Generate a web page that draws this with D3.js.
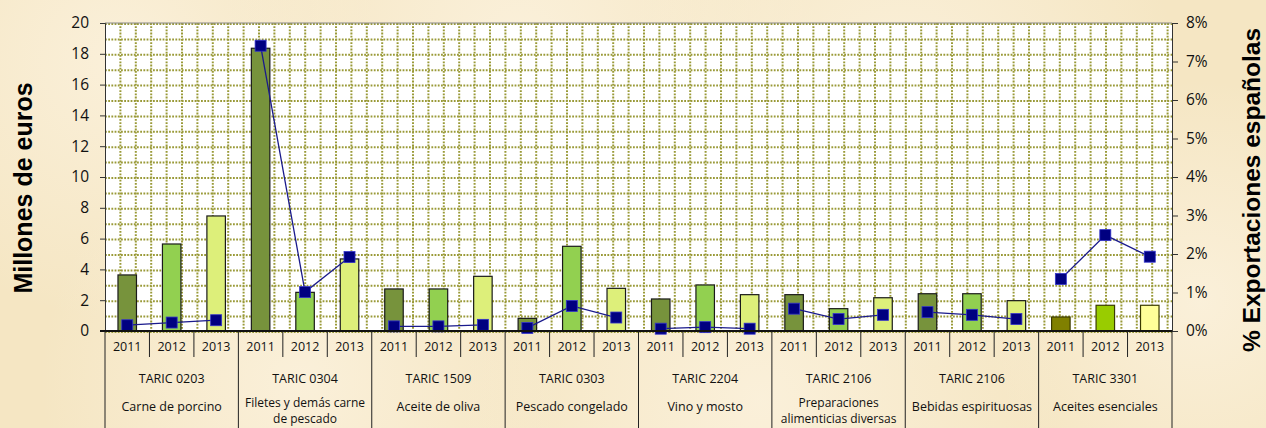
<!DOCTYPE html>
<html>
<head>
<meta charset="utf-8">
<script src="https://cdn.jsdelivr.net/npm/d3@7"></script>
<style>
  body { margin: 0; background: #f6e9ca; }
  svg { display: block; }
  .tick text { font-family: "Open Sans", "Noto Sans", sans-serif; }
</style>
</head>
<body>
<svg id="chart" width="1266" height="428"></svg>
<script>
// data
var codes = ["TARIC 0203", "TARIC 0304", "TARIC 1509", "TARIC 0303", "TARIC 2204", "TARIC 2106", "TARIC 2106", "TARIC 3301"];
var names = [["Carne de porcino"], ["Filetes y demás carne", "de pescado"], ["Aceite de oliva"], ["Pescado congelado"],
             ["Vino y mosto"], ["Preparaciones", "alimenticias diversas"], ["Bebidas espirituosas"], ["Aceites esenciales"]];
var years = ["2011", "2012", "2013"];
// millones de euros, one row per group
var valores = [
  [3.64, 5.65, 7.47],
  [18.36, 2.51, 4.68],
  [2.73, 2.73, 3.55],
  [0.82, 5.5, 2.77],
  [2.08, 2.99, 2.36],
  [2.36, 1.45, 2.16],
  [2.42, 2.42, 1.97],
  [0.91, 1.67, 1.67]
];
// % exportaciones españolas
var pct = [
  [0.15, 0.22, 0.28],
  [7.41, 1.01, 1.92],
  [0.12, 0.12, 0.16],
  [0.08, 0.65, 0.35],
  [0.06, 0.1, 0.06],
  [0.58, 0.31, 0.42],
  [0.49, 0.42, 0.31],
  [1.35, 2.49, 1.93]
];
var leftTicks = [0, 2, 4, 6, 8, 10, 12, 14, 16, 18, 20];
var rightTicks = [0, 1, 2, 3, 4, 5, 6, 7, 8];

var barColors = ["#77933c", "#92d050", "#ddef7a"];
var lastColors = ["#808000", "#99cc00", "#ffff99"];

var margin = {top: 23, right: 94, bottom: 97, left: 105};
var W = 1266, H = 428;
var width = W - margin.left - margin.right;
var height = H - margin.top - margin.bottom;

var svg = d3.select("#chart");

// parchment background
var defs = svg.append("defs");
var blotches = [[120, 60, 260], [520, 40, 300], [900, 90, 280], [1200, 300, 220], [300, 380, 260], [760, 400, 300]];
blotches.forEach(function(b, i) {
  var g = defs.append("radialGradient").attr("id", "bl" + i);
  g.append("stop").attr("offset", "0%").attr("stop-color", "#fbf1dc").attr("stop-opacity", 0.9);
  g.append("stop").attr("offset", "100%").attr("stop-color", "#fbf1dc").attr("stop-opacity", 0);
});
svg.append("rect").attr("width", W).attr("height", H).attr("fill", "#f5e6c3");
blotches.forEach(function(b, i) {
  svg.append("circle").attr("cx", b[0]).attr("cy", b[1]).attr("r", b[2]).attr("fill", "url(#bl" + i + ")");
});

var g = svg.append("g").attr("transform", "translate(" + margin.left + "," + margin.top + ")");

var flat = [];
codes.forEach(function(c, gi) {
  years.forEach(function(yr, yi) {
    flat.push({g: gi, y: yi, key: gi + "-" + yi, v: valores[gi][yi], p: pct[gi][yi]});
  });
});

var x = d3.scaleBand().domain(flat.map(function(d) { return d.key; })).range([0, width]);
var xg = d3.scaleBand().domain(d3.range(codes.length)).range([0, width]);
var y = d3.scaleLinear().domain([0, 20]).range([height, 0]);
var y2 = d3.scaleLinear().domain([0, 8]).range([height, 0]);

// plot area
g.append("rect").attr("width", width).attr("height", height).attr("fill", "#ffffff");

// dotted grid
var hGrid = d3.range(0, 21);
g.selectAll(".hgrid").data(hGrid).enter().append("line")
    .attr("x1", 0).attr("x2", width)
    .attr("y1", function(d) { return y(d) + 1; }).attr("y2", function(d) { return y(d) + 1; })
    .attr("stroke", "#9a9a38").attr("stroke-width", 2).attr("stroke-dasharray", "1.8,1.4");
var step = y(0) - y(1);
var vGrid = d3.range(step, width, step);
g.selectAll(".vgrid").data(vGrid).enter().append("line")
    .attr("y1", 0).attr("y2", height)
    .attr("x1", function(d) { return d; }).attr("x2", function(d) { return d; })
    .attr("stroke", "#9a9a38").attr("stroke-width", 2).attr("stroke-dasharray", "1.8,1.4");

g.append("line").attr("x1", 0).attr("x2", width).attr("y1", 0).attr("y2", 0).attr("stroke", "#8a8a8a");

// bars
var bw = 18.5;
g.selectAll(".bar").data(flat).enter().append("rect")
    .attr("x", function(d) { return x(d.key) + x.bandwidth() / 2 - bw / 2; })
    .attr("y", function(d) { return y(d.v); })
    .attr("width", bw)
    .attr("height", function(d) { return y(0) - y(d.v); })
    .attr("fill", function(d) { return d.g === codes.length - 1 ? lastColors[d.y] : barColors[d.y]; })
    .attr("stroke", function(d) { return d.g === codes.length - 1 ? "#3a3a00" : "#1a1a1a"; })
    .attr("stroke-width", 1.2);

// % line, one segment per group
var line = d3.line()
    .x(function(d) { return x(d.key) + x.bandwidth() / 2; })
    .y(function(d) { return y2(d.p); });
codes.forEach(function(c, gi) {
  var pts = flat.filter(function(d) { return d.g === gi; });
  g.append("path").datum(pts).attr("d", line)
      .attr("fill", "none").attr("stroke", "#1a1a8c").attr("stroke-width", 1.3);
});
g.selectAll(".mk").data(flat).enter().append("rect")
    .attr("x", function(d) { return x(d.key) + x.bandwidth() / 2 - 5.5; })
    .attr("y", function(d) { return y2(d.p) - 5.5; })
    .attr("width", 11).attr("height", 11)
    .attr("fill", "#000080").attr("stroke", "#3333cc").attr("stroke-width", 0.8);

// left axis
var ay = g.append("g").call(d3.axisLeft(y).tickValues(leftTicks).tickSize(5).tickPadding(11));
ay.select(".domain").attr("stroke", "#333");
ay.selectAll(".tick line").attr("stroke", "#333");
ay.selectAll("text").attr("font-size", 15.5).attr("fill", "#111");

// right axis
var ay2 = g.append("g").attr("transform", "translate(" + width + ",0)")
    .call(d3.axisRight(y2).tickValues(rightTicks).tickSize(6).tickPadding(8)
      .tickFormat(function(d) { return d + "%"; }));
ay2.select(".domain").attr("stroke", "#333");
ay2.selectAll(".tick line").attr("stroke", "#333");
ay2.selectAll("text").attr("font-size", 15.5).attr("fill", "#111");

// category axis (two levels)
var cat = g.append("g").attr("transform", "translate(0," + height + ")");
cat.append("line").attr("x1", -5).attr("x2", width).attr("y1", 0).attr("y2", 0)
    .attr("stroke", "#111").attr("stroke-width", 2);
cat.selectAll(".ysep").data(flat.filter(function(d) { return d.y > 0; })).enter().append("line")
    .attr("x1", function(d) { return x(d.key); }).attr("x2", function(d) { return x(d.key); })
    .attr("y1", 0).attr("y2", 26).attr("stroke", "#222");
cat.selectAll(".gsep").data(d3.range(codes.length + 1)).enter().append("line")
    .attr("x1", function(d) { return d * xg.bandwidth(); }).attr("x2", function(d) { return d * xg.bandwidth(); })
    .attr("y1", 0).attr("y2", H - margin.top - height).attr("stroke", "#222");
cat.selectAll(".yl").data(flat).enter().append("text")
    .attr("x", function(d) { return x(d.key) + x.bandwidth() / 2; })
    .attr("y", 20)
    .attr("text-anchor", "middle")
    .attr("font-family", "'Open Sans', sans-serif").attr("font-size", 12.5).attr("fill", "#111")
    .text(function(d) { return years[d.y]; });
cat.selectAll(".cl").data(codes).enter().append("text")
    .attr("x", function(d, i) { return xg(i) + xg.bandwidth() / 2; })
    .attr("y", 52)
    .attr("text-anchor", "middle")
    .attr("font-family", "'Open Sans', sans-serif").attr("font-size", 12.5).attr("fill", "#111")
    .text(function(d) { return d; });
names.forEach(function(lines, i) {
  var y0 = lines.length > 1 ? 76 : 80;
  lines.forEach(function(t, li) {
    cat.append("text")
        .attr("x", xg(i) + xg.bandwidth() / 2)
        .attr("y", y0 + li * 15.5)
        .attr("text-anchor", "middle")
        .attr("font-family", "'Open Sans', sans-serif").attr("font-size", lines.length > 1 ? 12 : 12.5).attr("fill", "#111")
        .text(t);
  });
});

// axis titles
svg.append("text")
    .attr("transform", "translate(32,188) rotate(-90)")
    .attr("text-anchor", "middle")
    .attr("font-family", "'Liberation Sans', Arial, sans-serif").attr("font-weight", "bold").attr("font-size", 25)
    .attr("fill", "#000")
    .text("Millones de euros");
svg.append("text")
    .attr("transform", "translate(1260,190) rotate(-90)")
    .attr("text-anchor", "middle")
    .attr("font-family", "'Liberation Sans', Arial, sans-serif").attr("font-weight", "bold").attr("font-size", 24.5)
    .attr("fill", "#000")
    .text("% Exportaciones españolas");
</script>
</body>
</html>
